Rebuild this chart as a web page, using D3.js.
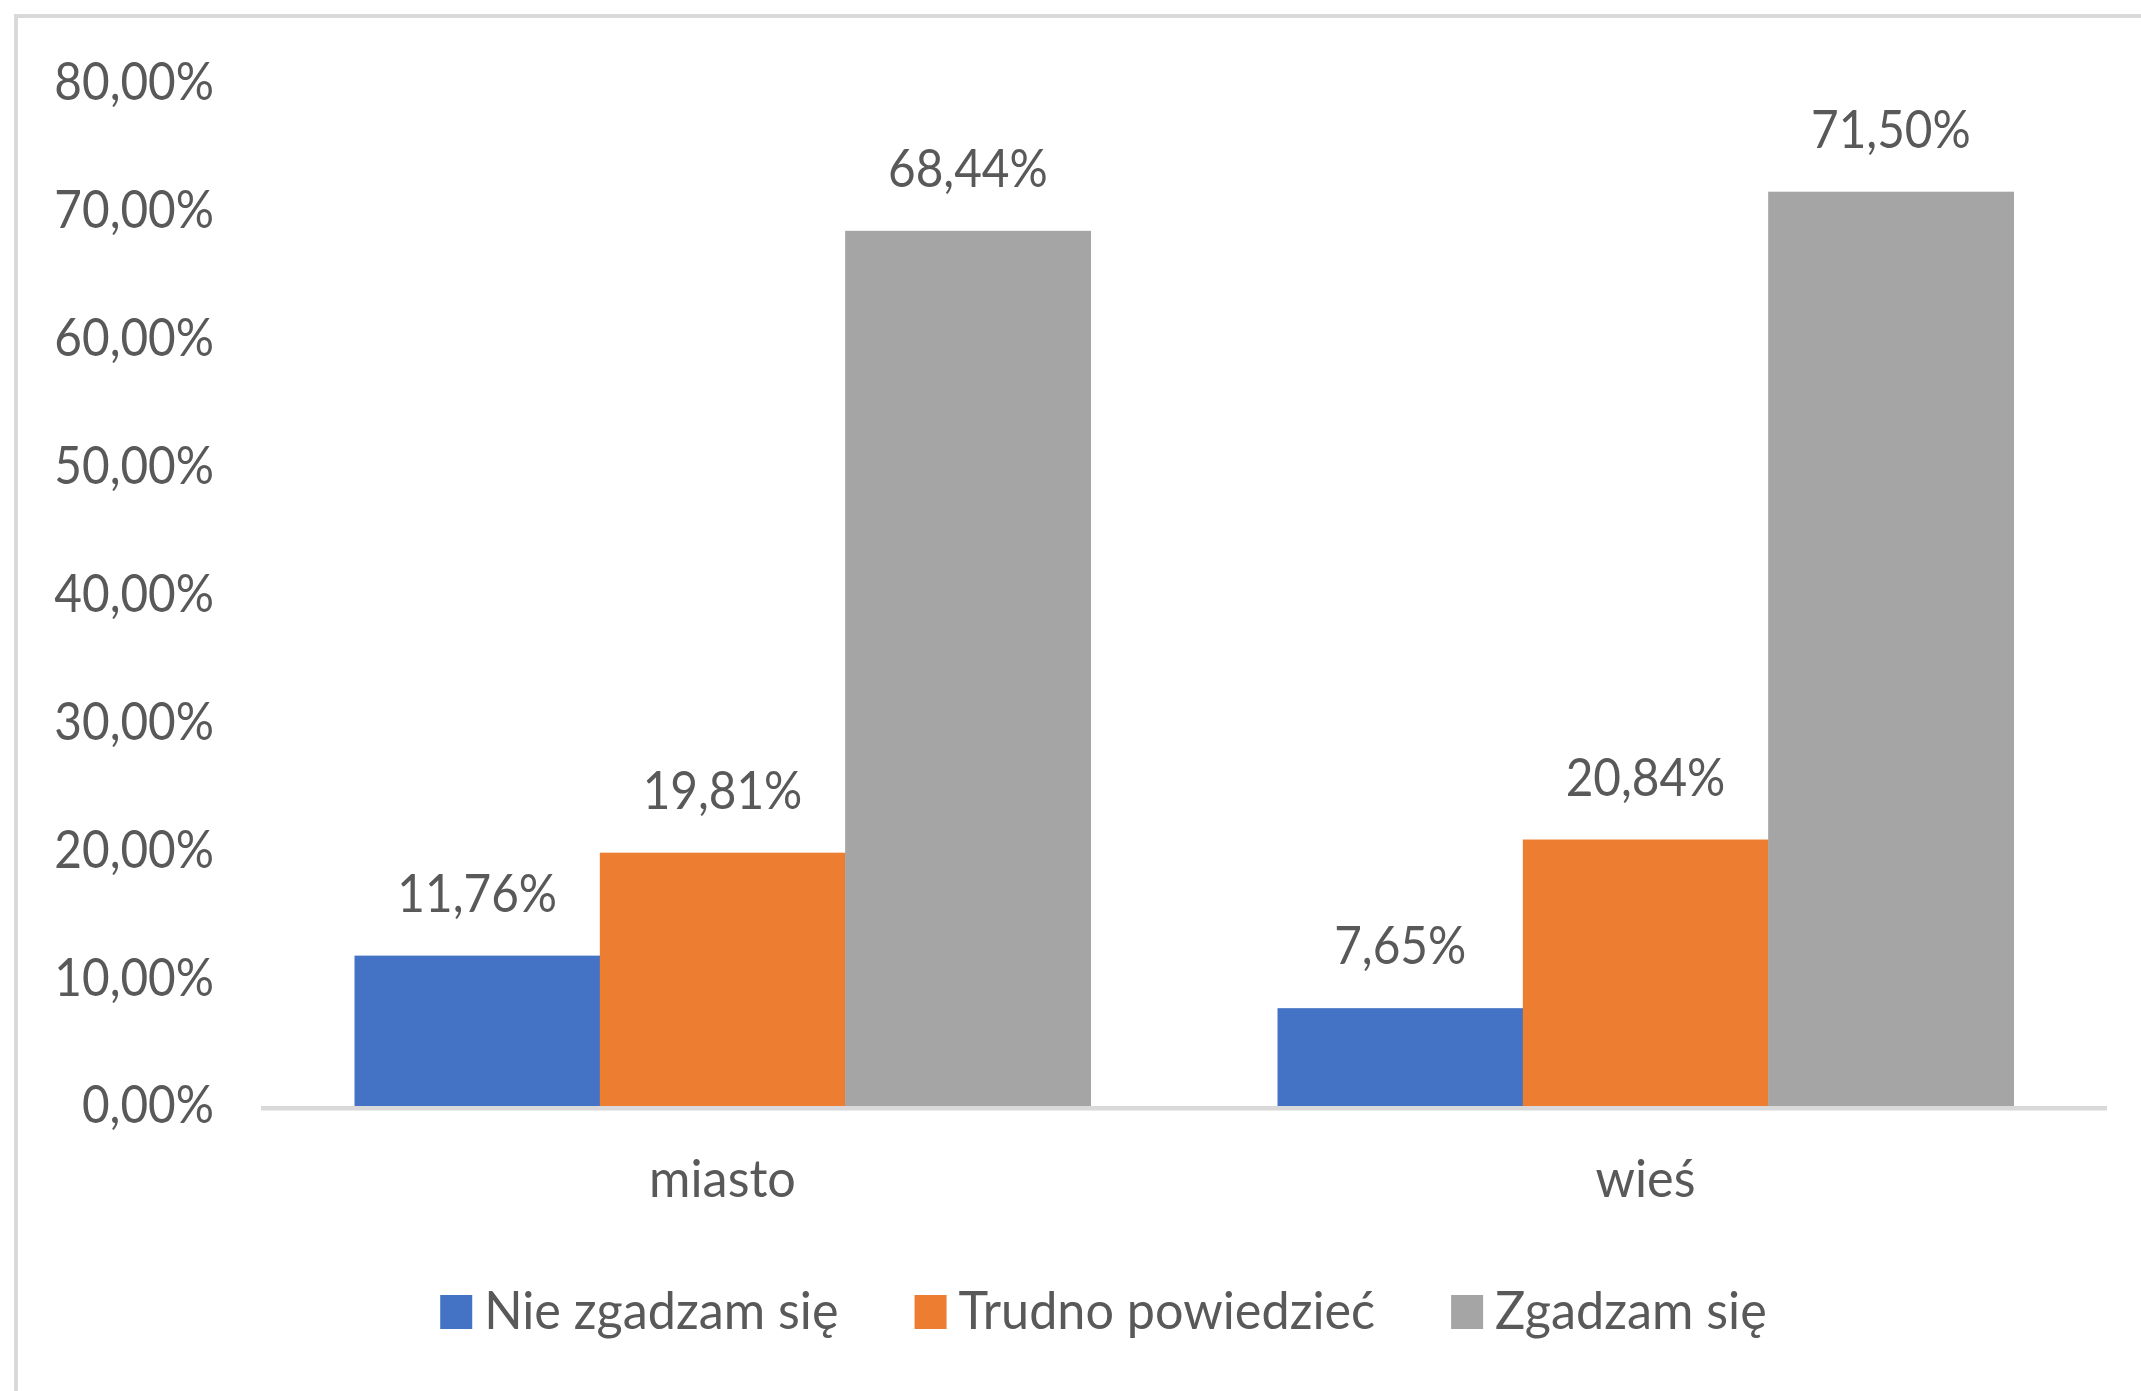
<!DOCTYPE html>
<html lang="pl">
<head>
    <meta charset="utf-8">
    <script type="text/javascript" src="https://d3js.org/d3.v7.min.js"></script>
    <style>
        body { margin: 0; background: #fff; }
        text { font-family: Lato, "Open Sans", sans-serif; fill: #595959; }
    </style>
</head>
<body>
    <script type="text/javascript">
        let w = 2141;
        let h = 1391;

        // data
        let categories = ["miasto", "wieś"];
        let seriesNames = ["Nie zgadzam się", "Trudno powiedzieć", "Zgadzam się"];
        let nieZgadzam = [11.76, 7.65];
        let trudno = [19.81, 20.84];
        let zgadzam = [68.44, 71.50];
        let yTicks = [0, 10, 20, 30, 40, 50, 60, 70, 80];
        let colors = ["#4472C4", "#ED7D31", "#A5A5A5"];

        let seriesValues = [nieZgadzam, trudno, zgadzam];
        let fontSize = 53;
        let squeeze = 0.9; // text in the original looks a bit narrow
        let legendSqueeze = 0.95;

        let fmt = function(v) { return v.toFixed(2).replace(".", ",") + "%"; };

        let svg = d3.select("body").append("svg")
            .attr("width", w)
            .attr("height", h);

        // chart border (cut off at right and bottom)
        svg.append("rect")
            .attr("x", 16).attr("y", 16)
            .attr("width", 2200).attr("height", 1500)
            .attr("fill", "white")
            .attr("stroke", "#d9d9d9")
            .attr("stroke-width", 4);

        let x0 = d3.scaleBand()
            .domain(categories)
            .range([261, 2107])
            .paddingInner(0.2026)
            .paddingOuter(0.1013);

        let x1 = d3.scaleBand()
            .domain(d3.range(seriesNames.length))
            .range([0, x0.bandwidth()]);

        let y = d3.scaleLinear()
            .domain([0, 80])
            .range([1106, 83]);

        // bars
        let groups = svg.selectAll("g.cat")
            .data(categories)
            .join("g")
            .attr("class", "cat")
            .attr("transform", function(d) { return "translate(" + x0(d) + ",0)"; });

        let cells = groups.selectAll("g.bar")
            .data(function(d, i) {
                return seriesValues.map(function(s, j) { return { s: j, v: s[i] }; });
            })
            .join("g")
            .attr("class", "bar");

        cells.append("rect")
            .attr("x", function(d) { return x1(d.s); })
            .attr("y", function(d) { return y(d.v); })
            .attr("width", x1.bandwidth() + 0.5)
            .attr("height", function(d) { return y(0) - y(d.v); })
            .attr("fill", function(d) { return colors[d.s]; });

        cells.append("text")
            .attr("transform", function(d) {
                return "translate(" + (x1(d.s) + x1.bandwidth() / 2) + "," + (y(d.v) - 44) + ") scale(" + squeeze + ",1)";
            })
            .attr("text-anchor", "middle")
            .style("font-size", fontSize + "px")
            .text(function(d) { return fmt(d.v); });

        // baseline
        svg.append("line")
            .attr("x1", 261).attr("x2", 2107)
            .attr("y1", y(0) + 2.3).attr("y2", y(0) + 2.3)
            .attr("stroke", "#d9d9d9")
            .attr("stroke-width", 4.6);

        // y axis labels
        let yAxis = svg.append("g")
            .attr("transform", "translate(214,0)")
            .call(d3.axisLeft(y).tickValues(yTicks).tickSize(0).tickPadding(0)
                .tickFormat(function(d) { return fmt(d); }));
        yAxis.select(".domain").remove();
        yAxis.selectAll("text")
            .attr("fill", null)
            .attr("transform", "scale(" + squeeze + ",1)")
            .style("font-size", fontSize + "px")
            .style("font-family", null);

        // category labels
        let xAxis = svg.append("g")
            .attr("transform", "translate(0,1197)")
            .call(d3.axisBottom(x0).tickSize(0));
        xAxis.select(".domain").remove();
        xAxis.selectAll("text")
            .attr("y", 0).attr("dy", 0)
            .attr("fill", null)
            .attr("transform", "scale(0.95,1)")
            .style("font-size", fontSize + "px")
            .style("font-family", null);

        // legend, centred on the chart frame
        let legend = svg.append("g");
        let items = legend.selectAll("g")
            .data(seriesNames)
            .join("g");
        items.append("rect")
            .attr("y", 1295)
            .attr("width", 32)
            .attr("height", 34)
            .attr("fill", function(d, i) { return colors[i]; });
        items.append("text")
            .attr("transform", "translate(44,1329) scale(" + legendSqueeze + ",1)")
            .style("font-size", fontSize + "px")
            .text(function(d) { return d; });

        let pos = 0;
        items.each(function() {
            let g = d3.select(this);
            let tw = g.select("text").node().getComputedTextLength() * legendSqueeze;
            g.attr("transform", "translate(" + pos + ",0)");
            pos += 44 + tw + 76;
        });
        let total = pos - 76;
        legend.attr("transform", "translate(" + (1103.5 - total / 2) + ",0)");
    </script>
</body>
</html>
